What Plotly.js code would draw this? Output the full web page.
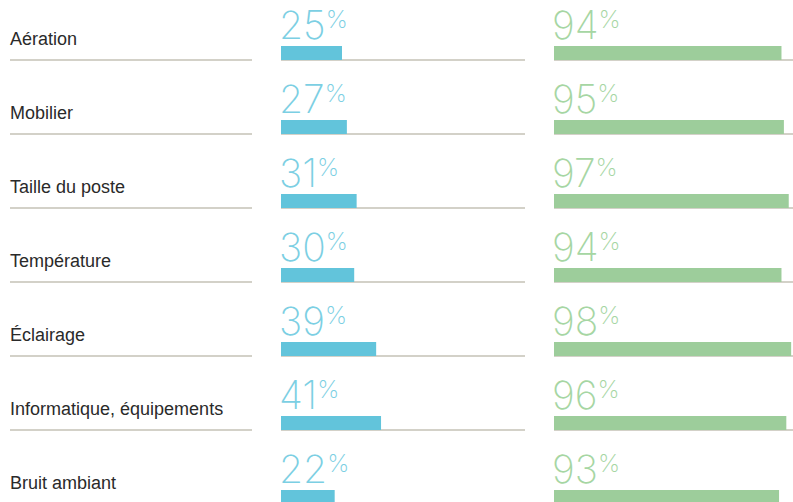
<!DOCTYPE html>
<html>
<head>
<meta charset="utf-8">
<script src="https://cdn.plot.ly/plotly-3.0.1.min.js"></script>
<style>html,body{margin:0;padding:0;background:#fff;}#chart{width:793px;height:502px;}</style>
</head>
<body>
<div id="chart"></div>
<script>
const categories = ["Aération", "Mobilier", "Taille du poste", "Température", "Éclairage", "Informatique, équipements", "Bruit ambiant"];
const blueValues = [25, 27, 31, 30, 39, 41, 22];
const greenValues = [94, 95, 97, 94, 98, 96, 93];

const blueBar = "#62c4db";
const greenBar = "#9dcd9b";
const blueText = "#7ccfe3";
const greenText = "#a6d6a3";
const lineColor = "#d3d1c8";

const rows = categories.map((c, i) => i);
const barW = 14 / 74;
const pxPerRow = 74;

const traces = [
  {type: "bar", orientation: "h", x: blueValues, y: rows, width: barW, offset: -barW,
   marker: {color: blueBar}, xaxis: "x", yaxis: "y", hoverinfo: "skip"},
  {type: "bar", orientation: "h", x: greenValues, y: rows, width: barW, offset: -barW,
   marker: {color: greenBar}, xaxis: "x2", yaxis: "y2", hoverinfo: "skip"}
];

const yRange = [6 + (502 - 504) / 74, -60 / 74];
const yBase = {range: yRange, tickvals: rows, showticklabels: false, showgrid: true,
  gridcolor: lineColor, gridwidth: 1.5, zeroline: false, ticks: "", fixedrange: true};

const anchorOff = 0.5;
const anchorPx = anchorOff * pxPerRow;

const pctFont = {family: "Inter, Lato, sans-serif", weight: 200, size: 39};
const pctText = v => v + '<sup><sub><span style="font-size:130%">%</span></sub></sup>';

const annotations = [];
categories.forEach((c, i) => {
  annotations.push({xref: "x3", yref: "y3", x: 0, y: i - anchorOff, xanchor: "left", yanchor: "bottom",
    yshift: 9 - anchorPx, xshift: -2, text: c, showarrow: false,
    font: {family: "Liberation Sans, Arial, sans-serif", size: 18, color: "#2a2a2a"}});
  annotations.push({xref: "x", yref: "y", x: 0, y: i - anchorOff, xanchor: "left", yanchor: "bottom",
    yshift: 10 - anchorPx, xshift: -4, text: pctText(blueValues[i]), showarrow: false,
    font: Object.assign({color: blueText}, pctFont)});
  annotations.push({xref: "x2", yref: "y2", x: 0, y: i - anchorOff, xanchor: "left", yanchor: "bottom",
    yshift: 10 - anchorPx, xshift: -4, text: pctText(greenValues[i]), showarrow: false,
    font: Object.assign({color: greenText}, pctFont)});
});

const layout = {
  width: 793, height: 502,
  margin: {l: 0, r: 0, t: 0, b: 0, pad: 0},
  paper_bgcolor: "#ffffff", plot_bgcolor: "#ffffff",
  showlegend: false,
  xaxis: {domain: [281 / 793, 525 / 793], range: [0, 100], visible: false, fixedrange: true},
  xaxis2: {domain: [554 / 793, 1], range: [0, 239 / 2.42], visible: false, fixedrange: true},
  xaxis3: {domain: [10 / 793, 252 / 793], range: [0, 1], visible: false, fixedrange: true},
  yaxis: Object.assign({anchor: "x"}, yBase),
  yaxis2: Object.assign({anchor: "x2"}, yBase),
  yaxis3: Object.assign({anchor: "x3"}, yBase),
  annotations: annotations
};

Plotly.newPlot("chart", traces, layout, {staticPlot: true, displayModeBar: false});
</script>
</body>
</html>
